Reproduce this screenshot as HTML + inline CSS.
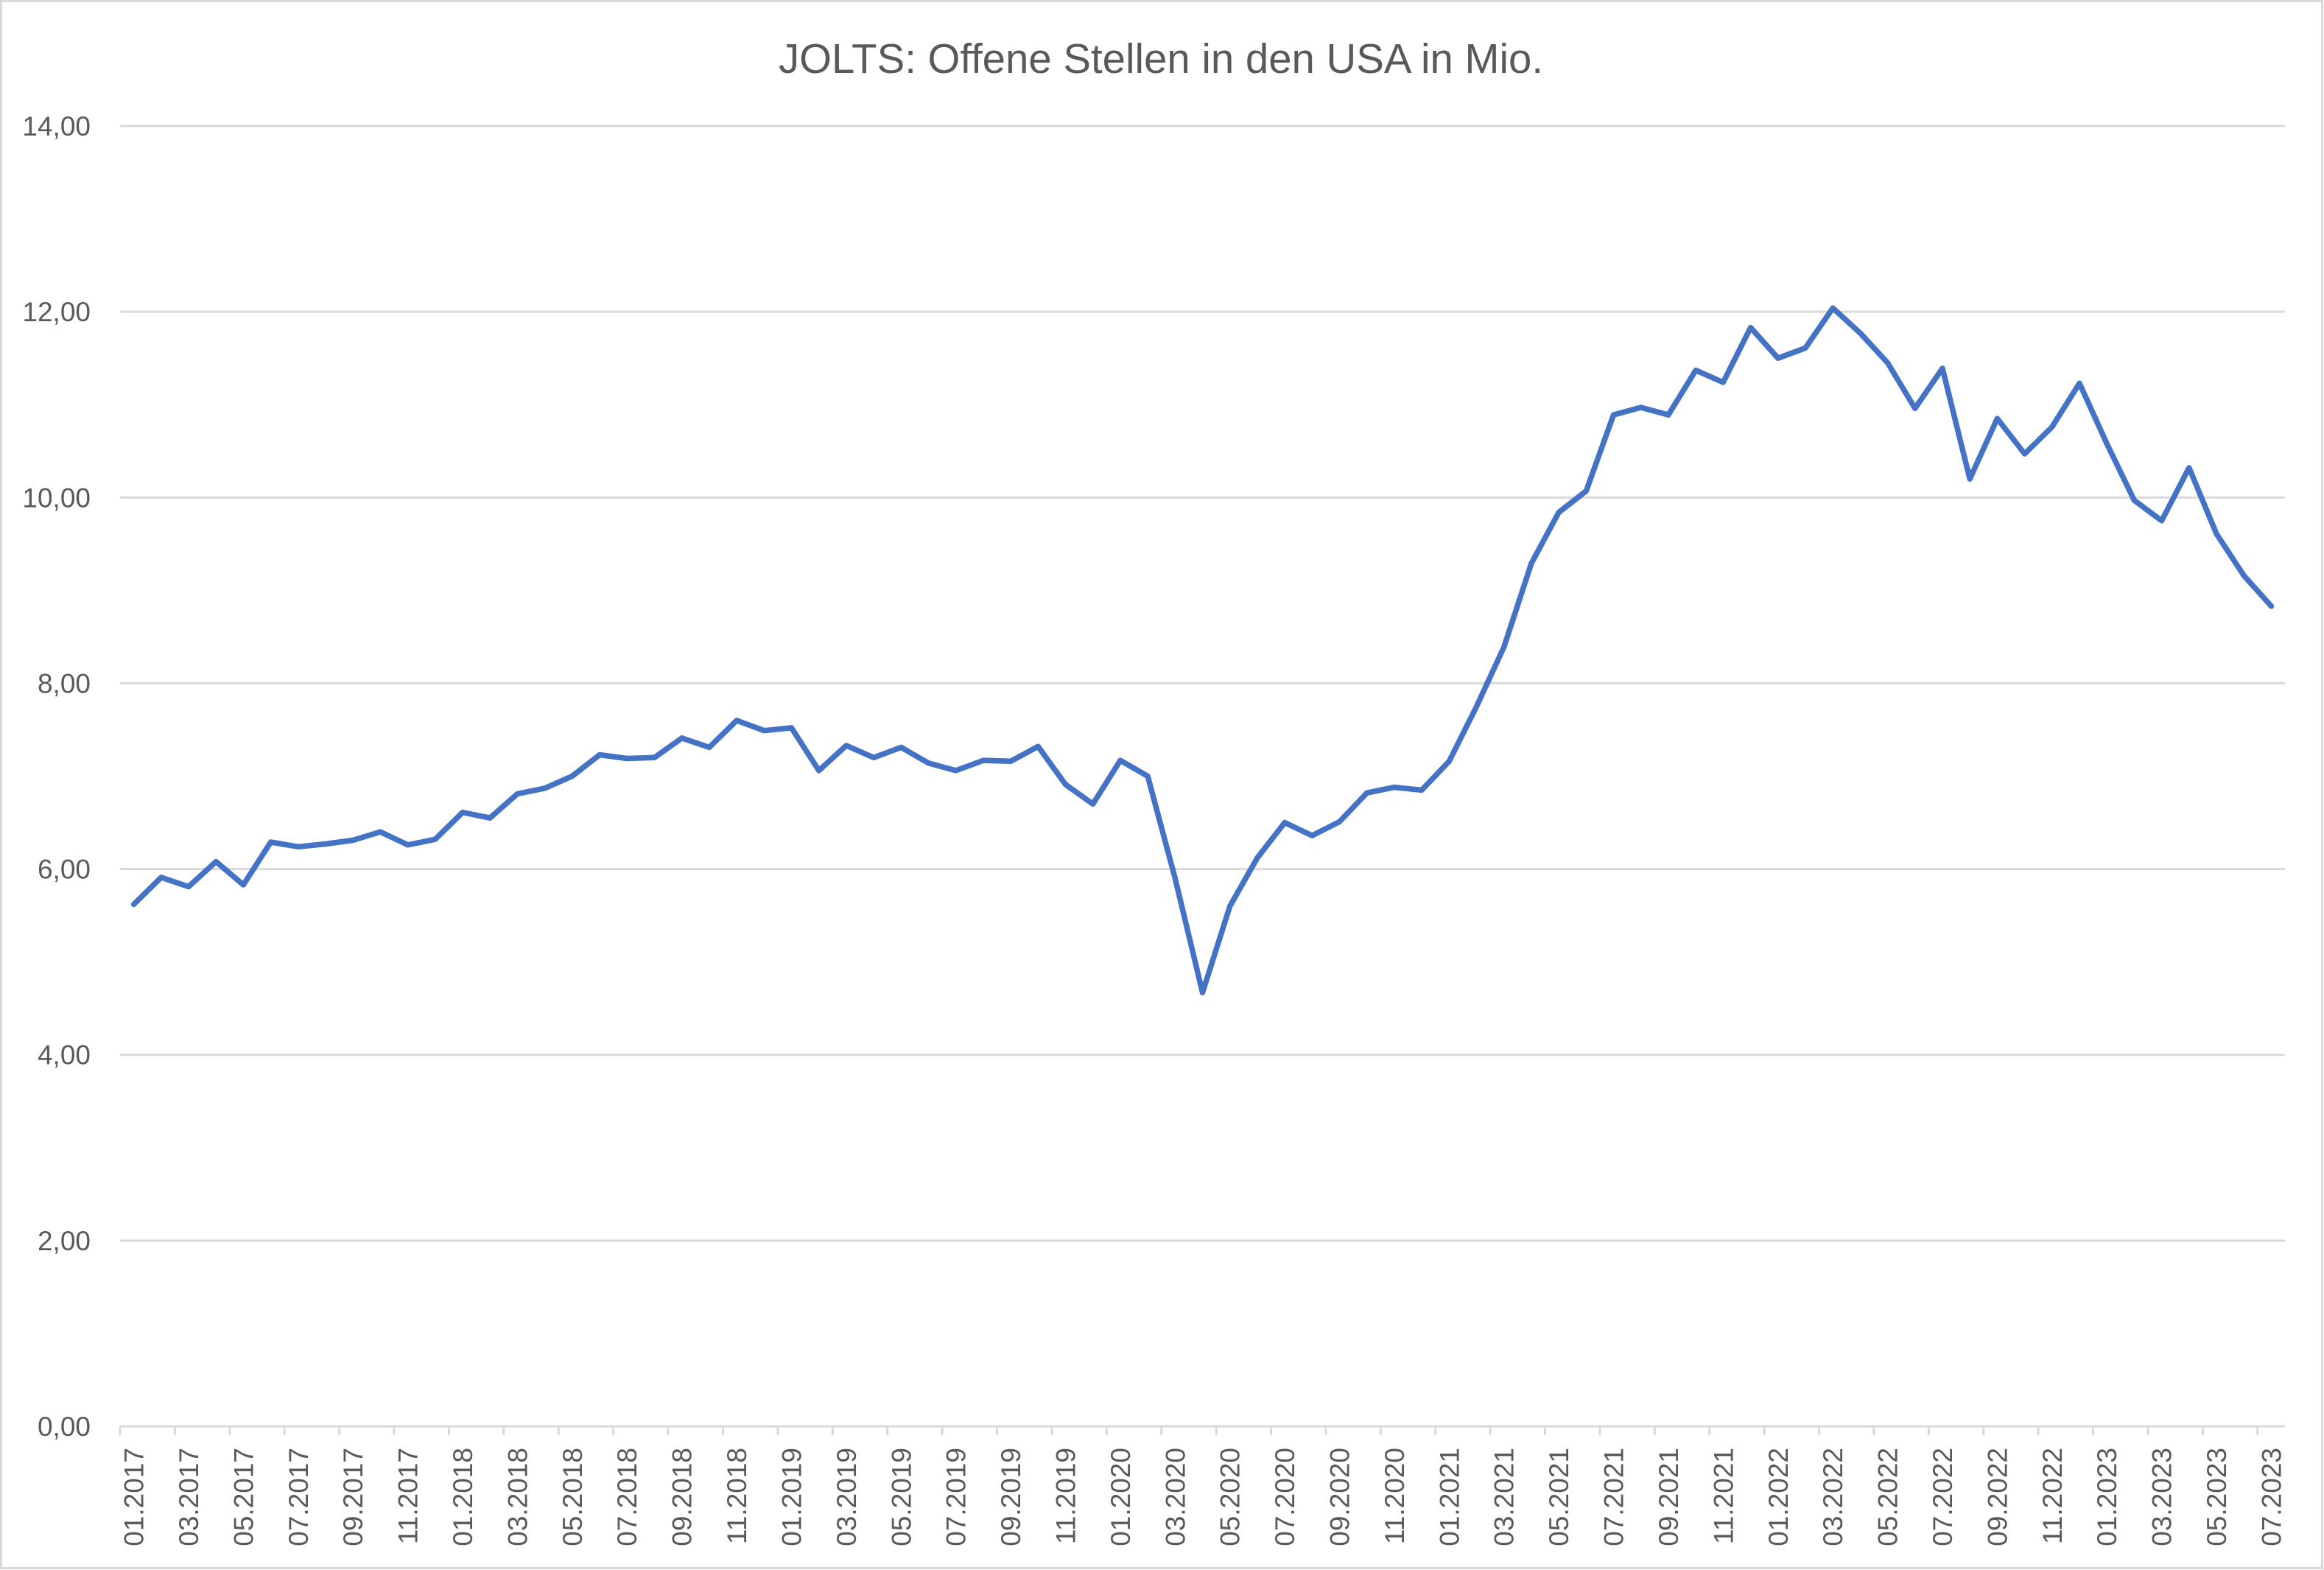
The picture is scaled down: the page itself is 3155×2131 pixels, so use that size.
<!DOCTYPE html>
<html>
<head>
<meta charset="utf-8">
<style>
  html,body{margin:0;padding:0;background:#fff;}
  body{width:3155px;height:2131px;overflow:hidden;}
  svg{display:block;font-family:"Liberation Sans",Arial,sans-serif;}
</style>
</head>
<body>
<svg id="chart" width="3155" height="2131" viewBox="0 0 3155 2131" xmlns="http://www.w3.org/2000/svg">
  <rect x="1.5" y="1.5" width="3151" height="2127" fill="#fff" stroke="#d9d9d9" stroke-width="3"/>
  <text x="1576" y="99" text-anchor="middle" font-size="57" fill="#595959" textLength="1038" lengthAdjust="spacingAndGlyphs">JOLTS: Offene Stellen in den USA in Mio.</text>
  <g id="grid"></g>
  <g id="yaxis"></g>
  <g id="xaxis"></g>
  <g id="series"></g>
</svg>
<script>
const yTicks = [0, 2, 4, 6, 8, 10, 12, 14];
const yTickLabels = ["0,00","2,00","4,00","6,00","8,00","10,00","12,00","14,00"];
const startYear = 2017;
const startMonth = 1;
const values = [
  5.62, 5.91, 5.81, 6.08, 5.83, 6.29, 6.24, 6.27, 6.31, 6.40,
  6.26, 6.32, 6.61, 6.55, 6.81, 6.87, 7.00, 7.23, 7.19, 7.20,
  7.41, 7.31, 7.60, 7.49, 7.52, 7.06, 7.33, 7.20, 7.31, 7.14,
  7.06, 7.17, 7.16, 7.32, 6.91, 6.70, 7.17, 7.00, 5.90, 4.67,
  5.60, 6.12, 6.50, 6.36, 6.51, 6.82, 6.88, 6.85, 7.16, 7.75,
  8.39, 9.29, 9.84, 10.07, 10.89, 10.97, 10.89, 11.37, 11.24, 11.83,
  11.50, 11.61, 12.04, 11.77, 11.45, 10.96, 11.39, 10.20, 10.85, 10.47,
  10.76, 11.23, 10.58, 9.97, 9.75, 10.32, 9.61, 9.16, 8.83
];
const categories = values.map((v, i) => {
  const m = (startMonth - 1 + i) % 12 + 1;
  const y = startYear + Math.floor((startMonth - 1 + i) / 12);
  return (m < 10 ? "0" + m : "" + m) + "." + y;
});

const NS = "http://www.w3.org/2000/svg";
const plotL = 163, plotR = 3102, plotT = 171, plotB = 1936;
const yMax = 14;
const n = categories.length;
const bandW = (plotR - plotL) / n;
function xPos(i){ return plotL + bandW * (i + 0.5); }
function xEdge(k){ return plotL + bandW * k; }
function yPos(v){ return plotB - (v / yMax) * (plotB - plotT); }
function mk(tag, attrs){ const e = document.createElementNS(NS, tag); for (const k in attrs) e.setAttribute(k, attrs[k]); return e; }

const grid = document.getElementById("grid");
const yaxis = document.getElementById("yaxis");
yTicks.forEach((t, j) => {
  const y = yPos(t);
  const ln = mk("line", {x1: plotL, x2: plotR, y1: y, y2: y, stroke: "#d9d9d9", "stroke-width": 3});
  
  
  grid.appendChild(ln);
  const tx = mk("text", {x: 123, y: y + 13, "text-anchor": "end", "font-size": 37, fill: "#595959"});
  tx.textContent = yTickLabels[j];
  
  
  yaxis.appendChild(tx);
});

const xaxis = document.getElementById("xaxis");
const axisLine = mk("line", {x1: plotL, x2: plotR, y1: plotB, y2: plotB, stroke: "#d9d9d9", "stroke-width": 3});


xaxis.appendChild(axisLine);
for (let k = 0; k < n; k += 2) {
  const x = xEdge(k);
  const tk = mk("line", {x1: x, x2: x, y1: plotB, y2: plotB + 12, stroke: "#d9d9d9", "stroke-width": 3});
  
  
  xaxis.appendChild(tk);
  const cx = xPos(k) + 13, ty = 1965;
  const tx = mk("text", {x: cx, y: ty, "text-anchor": "end", "font-size": 37, fill: "#595959", transform: "rotate(-90 " + cx + " " + ty + ")"});
  tx.textContent = categories[k];
  
  
  xaxis.appendChild(tx);
}

const series = document.getElementById("series");
const pts = values.map((v, i) => xPos(i).toFixed(1) + "," + yPos(v).toFixed(1)).join(" ");
const pl = mk("polyline", {points: pts, fill: "none", stroke: "#4472C4", "stroke-width": 7.5, "stroke-linejoin": "round", "stroke-linecap": "round"});


series.appendChild(pl);
</script>
</body>
</html>
